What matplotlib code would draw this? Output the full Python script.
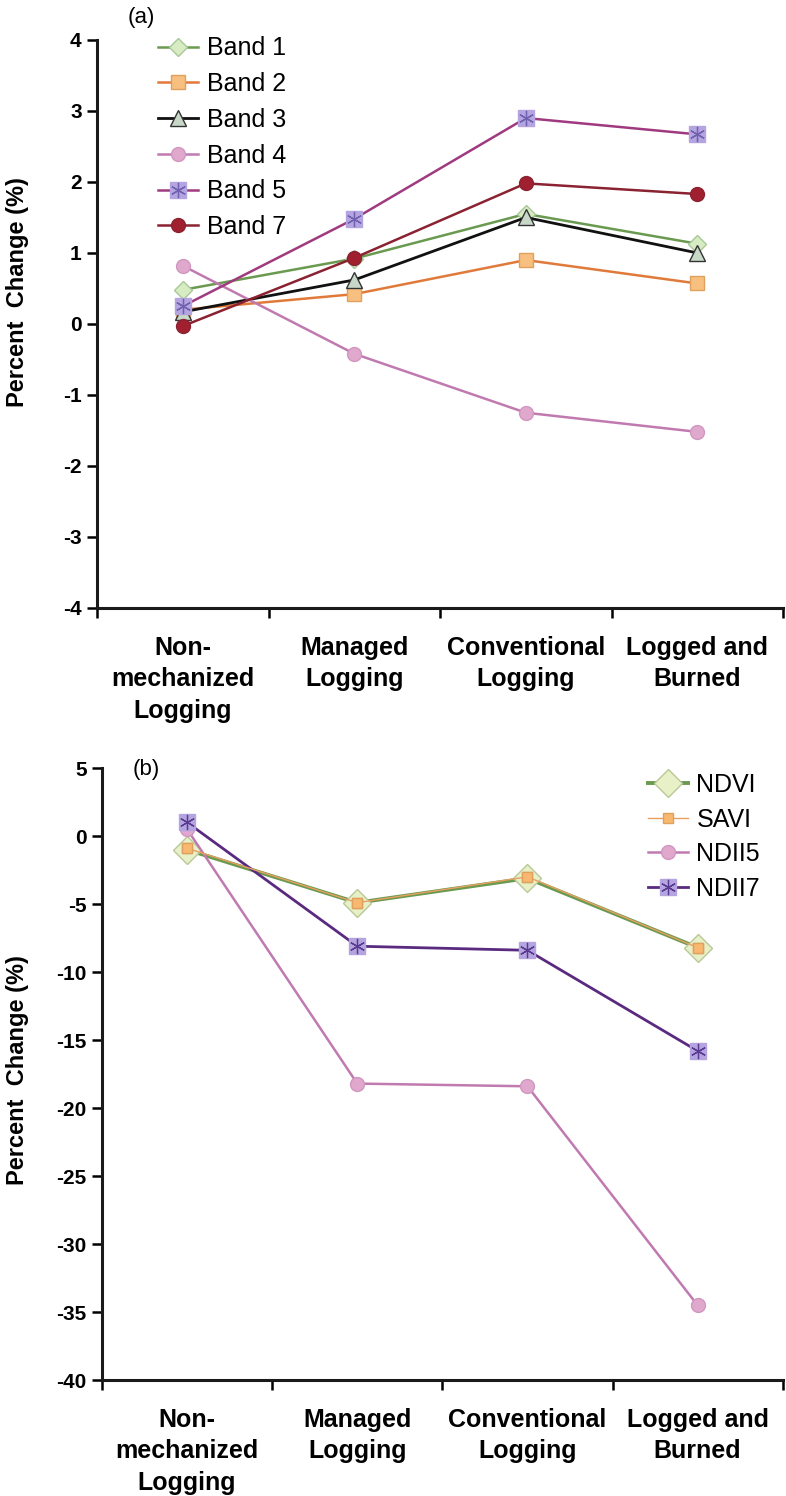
import matplotlib
matplotlib.use("Agg")
import matplotlib.pyplot as plt
from matplotlib.legend_handler import HandlerTuple

plt.rcParams['font.family'] = ['Liberation Sans', 'DejaVu Sans']

categories = ["Non-\nmechanized\nLogging", "Managed\nLogging", "Conventional\nLogging", "Logged and\nBurned"]

# Panel (a): spectral bands
band1 = [0.48, 0.92, 1.55, 1.13]
band2 = [0.20, 0.42, 0.90, 0.57]
band3 = [0.17, 0.62, 1.50, 1.00]
band4 = [0.82, -0.42, -1.25, -1.52]
band5 = [0.25, 1.48, 2.90, 2.67]
band7 = [-0.03, 0.93, 1.98, 1.83]

# Panel (b): indices
ndvi = [-1.0, -4.9, -3.1, -8.2]
savi = [-0.9, -4.9, -3.0, -8.2]
ndii5 = [0.5, -18.2, -18.4, -34.5]
ndii7 = [1.0, -8.1, -8.4, -15.8]

yticks_a = [4, 3, 2, 1, 0, -1, -2, -3, -4]
yticks_b = [5, 0, -5, -10, -15, -20, -25, -30, -35, -40]

fig = plt.figure(figsize=(7.86, 14.96), dpi=100)
ax1 = fig.add_axes([0.1234, 0.5936, 0.873, 0.3797])
ax2 = fig.add_axes([0.1298, 0.0775, 0.866, 0.4091])

x = [i + 0.5 for i in range(len(categories))]

tickfont = dict(fontsize=15, fontweight='bold')
star = (6, 2, 0)

def style(ax, yticks, ylim, spine_px, label_y):
    for s in ['top', 'right']:
        ax.spines[s].set_visible(False)
    for s in ['left', 'bottom']:
        ax.spines[s].set_linewidth(2.2)
        ax.spines[s].set_color('#1a1a1a')
    ax.set_xlim(0, len(categories))
    ax.set_ylim(*ylim)
    ax.set_yticks(yticks)
    ax.set_yticklabels([str(v) for v in yticks], **tickfont)
    ax.set_xticks(range(len(categories) + 1))
    ax.set_xticklabels([])
    ax.set_xticks(x, minor=True)
    ax.set_xticklabels(categories, minor=True, fontsize=18, fontweight='bold', linespacing=1.4)
    ax.tick_params(axis='x', which='minor', length=0, pad=20)
    ax.tick_params(axis='x', which='major', direction='out', length=7, width=1.8)
    ax.tick_params(axis='y', direction='out', length=7, width=1.8, pad=4)
    ax.set_ylabel("Percent  Change (%)", fontsize=17, fontweight='bold')
    w = ax.get_position().width * 786
    ax.yaxis.set_label_coords((29 - spine_px) / w, label_y)

# Panel (a)
l1, = ax1.plot(x, band1, color='#6a9a50', lw=1.8, marker='D', ms=9, mfc='#d8ecc4', mec='#a8c898', zorder=3)
l2, = ax1.plot(x, band2, color='#e07a3a', lw=1.8, marker='s', ms=10, mfc='#f8c080', mec='#e0a060', zorder=3)
l3, = ax1.plot(x, band3, color='#111111', lw=2.0, marker='^', ms=11, mfc='#c8d8c8', mec='#333333', zorder=3)
l4, = ax1.plot(x, band4, color='#c07ab0', lw=1.8, marker='o', ms=10, mfc='#e0a8cc', mec='#d098c0', zorder=3)
l5, = ax1.plot(x, band5, color='#a03a80', lw=1.8, marker='s', ms=12, mfc='#b4a4e0', mec='#b4a4e0', zorder=3)
l5s, = ax1.plot(x, band5, ls='none', marker=star, ms=11, mfc='none', mec='#7060b0', mew=0.9, zorder=4)
l7, = ax1.plot(x, band7, color='#8b2232', lw=1.8, marker='o', ms=10, mfc='#a02030', mec='#8b2232', zorder=3)

style(ax1, yticks_a, (-4, 4), 97, 0.556)
ax1.legend([l1, l2, l3, l4, (l5, l5s), l7], ["Band 1", "Band 2", "Band 3", "Band 4", "Band 5", "Band 7"],
           handler_map={tuple: HandlerTuple(ndivide=1)},
           loc='upper left', bbox_to_anchor=(0.075, 1.024), frameon=False,
           prop={'size': 18}, handlelength=1.6,
           handletextpad=0.35, labelspacing=0.47, borderaxespad=0)
ax1.text(0.045, 1.039, "(a)", transform=ax1.transAxes, fontsize=16,
         va='center', ha='left')

# Panel (b)
ls_, = ax2.plot(x, savi, color='#e8a060', lw=1.0, marker='s', ms=7, mfc='#f8b870', mec='#e0a060', zorder=4)
ln, = ax2.plot(x, ndvi, color='#6a9a50', lw=2.8, marker='D', ms=14, mfc='#e8f0c8', mec='#b8c898', zorder=3)
l5b, = ax2.plot(x, ndii5, color='#c07ab0', lw=1.8, marker='o', ms=10, mfc='#e0a8cc', mec='#d098c0', zorder=3)
l7b, = ax2.plot(x, ndii7, color='#5a2a80', lw=2.0, marker='s', ms=12, mfc='#b4a4e0', mec='#b4a4e0', zorder=3)
l7bs, = ax2.plot(x, ndii7, ls='none', marker=star, ms=11, mfc='none', mec='#5a3a90', mew=0.9, zorder=4)
# SAVI squares drawn over NDVI diamonds
ax2.plot(x, savi, ls='none', marker='s', ms=7, mfc='#f8b870', mec='#e0a060', zorder=5)

style(ax2, yticks_b, (-40, 5), 102, 0.507)
ax2.legend([ln, ls_, l5b, (l7b, l7bs)], ["NDVI", "SAVI", "NDII5", "NDII7"],
           handler_map={tuple: HandlerTuple(ndivide=1)},
           loc='upper left', bbox_to_anchor=(0.787, 1.008), frameon=False,
           prop={'size': 18}, handlelength=1.6,
           handletextpad=0.35, labelspacing=0.42, borderaxespad=0)
ax2.text(0.045, 0.997, "(b)", transform=ax2.transAxes, fontsize=16,
         va='center', ha='left')

fig.savefig("out.png", dpi=100)
